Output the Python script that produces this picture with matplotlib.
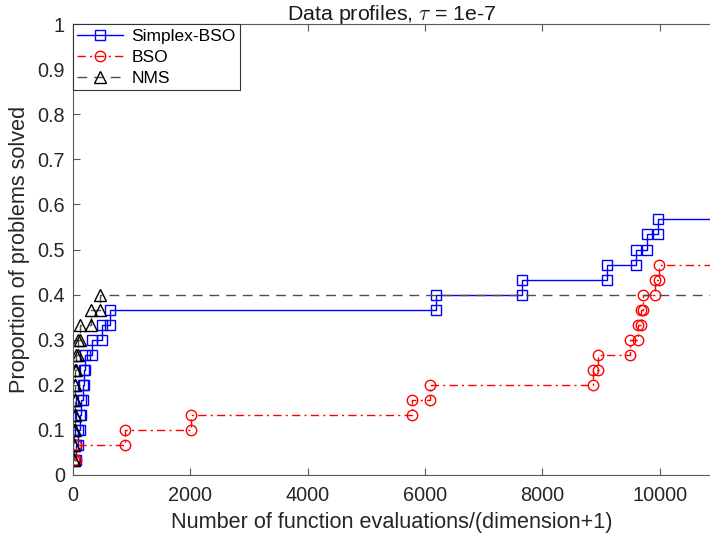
import numpy as np
import matplotlib
matplotlib.use('Agg')
import matplotlib.pyplot as plt

plt.rcParams['font.family'] = ['Liberation Sans', 'DejaVu Sans']
plt.rcParams['mathtext.fontset'] = 'cm'

n_prob = 30
x_end = 12000

# evaluations needed for each solved problem (sorted)
simplex_bso = [40, 55, 80, 110, 140, 160, 185, 200, 327, 484, 626,
               6184, 7662, 9111, 9594, 9787, 9981]
bso = [12, 50, 881, 2018, 5770, 6082, 8866, 8951, 9492, 9633, 9690,
       9718, 9926, 9986]
nms = [10, 15, 20, 25, 30, 35, 40, 50, 85, 114, 310, 455]


def stairs_xy(t):
    # same corners as matlab stairs(), plus a tail to the right
    xs, ys = [], []
    for k, v in enumerate(t):
        if k > 0:
            xs.append(v)
            ys.append(k / n_prob)
        xs.append(v)
        ys.append((k + 1) / n_prob)
    xs.append(x_end)
    ys.append(len(t) / n_prob)
    return np.array(xs), np.array(ys)


fig = plt.figure(figsize=(7.1, 5.36), dpi=100)
ax = fig.add_axes([0.103, 0.114, 0.897, 0.841])

x, y = stairs_xy(simplex_bso)
ax.plot(x, y, linestyle='-', color='#0000ff', lw=1.0, marker='s', ms=7,
        mfc='none', mec='#0000ff', mew=1.0, label='Simplex-BSO')
x, y = stairs_xy(bso)
ax.plot(x, y, linestyle=(0, (6, 3, 1.5, 3)), color='#ff0000', lw=1.0,
        marker='o', ms=7.5, mfc='none', mec='#ff0000', mew=1.0, label='BSO')
x, y = stairs_xy(nms)
ax.plot(x, y, linestyle=(0, (7, 5)), color='0.3', lw=1.0, marker='^',
        ms=8.5, mfc='none', mec='black', mew=1.0, label='NMS')

ax.set_xlim(0, 10860)
ax.set_ylim(0, 1)
ax.set_xticks([0, 2000, 4000, 6000, 8000, 10000])
ax.set_yticks(np.arange(0, 1.01, 0.1))
ax.set_yticklabels(['0', '0.1', '0.2', '0.3', '0.4', '0.5', '0.6', '0.7',
                    '0.8', '0.9', '1'])

for s in ['left', 'bottom', 'top']:
    ax.spines[s].set_color('0.35')
    ax.spines[s].set_linewidth(0.8)
ax.spines['right'].set_visible(False)
ax.tick_params(direction='in', top=True, length=5, width=0.8,
               color='0.35', labelcolor='0.15', labelsize=14.3)
ax.tick_params(axis='x', pad=8)
ax.tick_params(axis='y', pad=6)

ax.set_xlabel('Number of function evaluations/(dimension+1)', fontsize=15.6,
              color='0.15', labelpad=5)
ax.set_ylabel('Proportion of problems solved', fontsize=15.6, color='0.15',
              labelpad=5)
ax.set_title(r'Data profiles, $\tau$ = 1e-7', fontsize=15.4, color='0.1',
             pad=3)

leg = ax.legend(loc='upper left', bbox_to_anchor=(0, 1), borderaxespad=0,
                fontsize=12.5, fancybox=False, framealpha=1,
                handlelength=2.6, handletextpad=0.5, labelspacing=0.35,
                borderpad=0.25)
leg.get_frame().set_edgecolor('0.2')
leg.get_frame().set_linewidth(0.8)

fig.savefig('out.png', dpi=100)
